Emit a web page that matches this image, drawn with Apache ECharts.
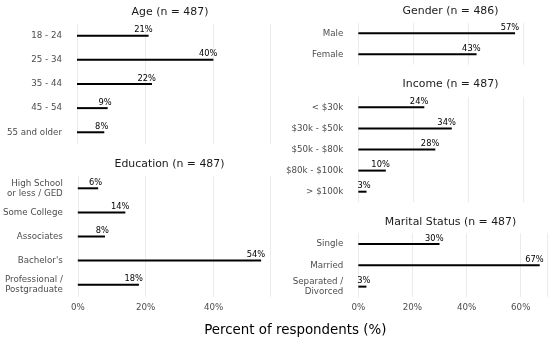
<!DOCTYPE html>
<html>
<head>
<meta charset="utf-8">
<script src="https://cdn.jsdelivr.net/npm/echarts@6/dist/echarts.min.js"></script>
<style>
html,body{margin:0;padding:0;background:#fff;}
#c{width:550px;height:343px;}
</style>
</head>
<body>
<div id="c"></div>
<script>
var ageCats = ['18 - 24', '25 - 34', '35 - 44', '45 - 54', '55 and older'];
var ageVals = [21, 40, 22, 9, 8];
var eduCats = ['High School\nor less / GED', 'Some College', 'Associates', "Bachelor's", 'Professional /\nPostgraduate'];
var eduVals = [6, 14, 8, 54, 18];
var genderCats = ['Male', 'Female'];
var genderVals = [57, 43];
var incomeCats = ['< $30k', '$30k - $50k', '$50k - $80k', '$80k - $100k', '> $100k'];
var incomeVals = [24, 34, 28, 10, 3];
var maritalCats = ['Single', 'Married', 'Separated /\nDivorced'];
var maritalVals = [30, 67, 3];
var panelTitles = ['Age (n = 487)', 'Education (n = 487)', 'Gender (n = 486)', 'Income (n = 487)', 'Marital Status (n = 487)'];
var xTicks = [0, 20, 40, 60];
var axisTitle = 'Percent of respondents (%)';

var FONT = 'DejaVu Sans';
var panels = [
  {cats: ageCats, vals: ageVals, title: panelTitles[0], left: 77, width: 193.3, max: 56.7, top: 23.6, height: 120.75, tx: 170, ty: 11.7, showX: false},
  {cats: eduCats, vals: eduVals, title: panelTitles[1], left: 77, width: 193.3, max: 56.7, top: 176.25, height: 120.5, tx: 169.5, ty: 164, showX: true},
  {cats: genderCats, vals: genderVals, title: panelTitles[2], left: 358.3, width: 191.7, max: 69.7, top: 22.8, height: 42, tx: 450.5, ty: 11.3, showX: false},
  {cats: incomeCats, vals: incomeVals, title: panelTitles[3], left: 358.3, width: 191.7, max: 69.7, top: 96.75, height: 105.5, tx: 450.5, ty: 84.3, showX: false},
  {cats: maritalCats, vals: maritalVals, title: panelTitles[4], left: 358.3, width: 191.7, max: 69.7, top: 233.3, height: 64, tx: 450.5, ty: 221.7, showX: true}
];

var option = {
  backgroundColor: '#ffffff',
  animation: false,
  textStyle: {fontFamily: FONT},
  graphic: [],
  grid: [],
  xAxis: [],
  yAxis: [],
  series: []
};

panels.forEach(function (p, i) {
  option.graphic.push({
    type: 'text', x: p.tx, y: p.ty, silent: true,
    style: {text: p.title, fontFamily: FONT, fontSize: 10.9, fill: '#1a1a1a', textAlign: 'center', textVerticalAlign: 'middle'}
  });
  option.grid.push({left: p.left, top: p.top, width: p.width, height: p.height, containLabel: false});
  option.xAxis.push({
    type: 'value', gridIndex: i, min: 0, max: p.max, interval: 20,
    axisLine: {show: false}, axisTick: {show: false},
    splitLine: {show: true, lineStyle: {color: '#ebebeb', width: 1}},
    axisLabel: {
      show: p.showX, margin: 6, color: '#4d4d4d', fontSize: 8.7, fontFamily: FONT,
      formatter: function (v) { return xTicks.indexOf(v) >= 0 ? v + '%' : ''; }
    }
  });
  option.yAxis.push({
    type: 'category', gridIndex: i, data: p.cats, inverse: true,
    axisLine: {show: false}, axisTick: {show: false}, splitLine: {show: false},
    axisLabel: {margin: 15, color: '#4d4d4d', fontSize: 8.7, fontFamily: FONT, lineHeight: 10, align: 'right'}
  });
  option.series.push({
    type: 'bar', xAxisIndex: i, yAxisIndex: i, data: p.vals, barWidth: 2,
    itemStyle: {color: '#000000'},
    label: {
      show: true, position: ['100%', -4.5], align: 'right', verticalAlign: 'middle', offset: [4, 0],
      formatter: '{c}%', color: '#000000', fontSize: 8.3, fontFamily: FONT
    }
  });
});
option.graphic.push({
  type: 'text', x: 295.3, y: 330.5, silent: true,
  style: {text: axisTitle, fontFamily: FONT, fontSize: 13.4, fill: '#000000', textAlign: 'center', textVerticalAlign: 'middle'}
});

var chart = echarts.init(document.getElementById('c'), null, {renderer: 'canvas'});
chart.setOption(option);
</script>
</body>
</html>
